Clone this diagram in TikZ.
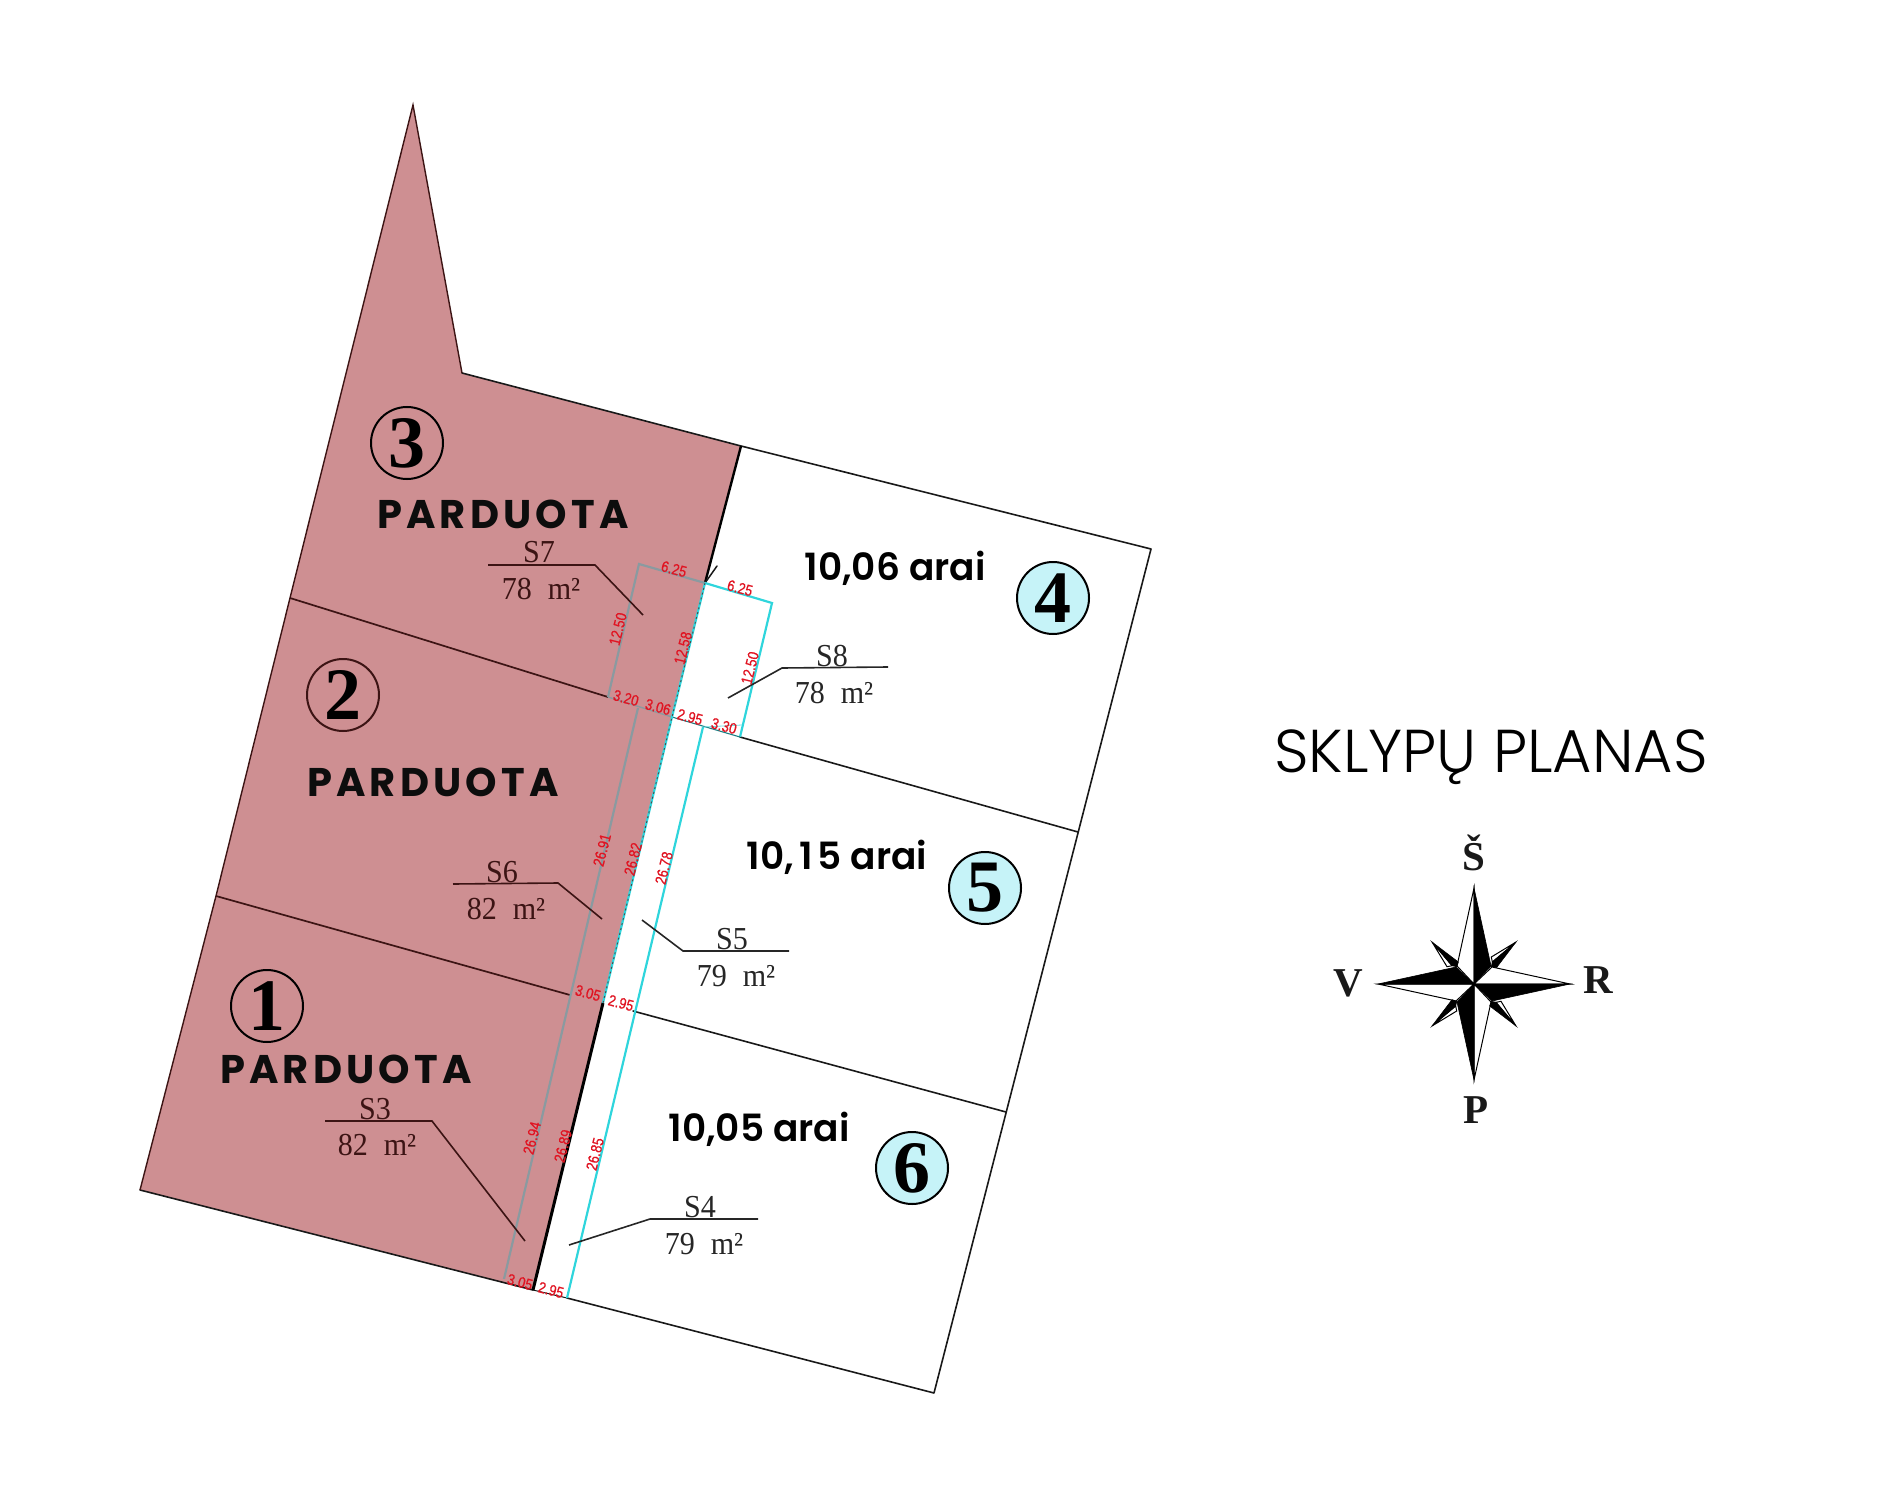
\documentclass[tikz,border=0pt]{standalone}
\usepackage{fontspec}
\setmainfont{Liberation Serif}
\newfontfamily\planf[FakeStretch=0.94]{Liberation Serif}
\newfontfamily\redf[FakeStretch=0.85,FakeBold=0.6]{Liberation Sans}
\newfontfamily\soldf[LetterSpace=10.5]{Poppins Bold}
\newfontfamily\areaf{Poppins SemiBold}
\newfontfamily\titlef{Poppins Light}
\newcommand\wideone{\makebox[.63em]{1}}
\definecolor{soldpink}{HTML}{CE8F92}
\definecolor{freecyan}{HTML}{C6F3F8}
\definecolor{linecyan}{HTML}{2FD5DC}
\definecolor{linegray}{HTML}{8A9AA0}
\definecolor{maroon}{HTML}{3C1414}
\definecolor{dimred}{HTML}{E01422}
\tikzset{
 edge/.style={draw=black!90,line width=1.6pt,line cap=round,line join=round},
 heavy/.style={draw=black,line width=3pt},
 inner/.style={draw=maroon,line width=1.7pt},
 cyanl/.style={draw=linecyan,line width=2.2pt},
 grayl/.style={draw=linegray,line width=2.2pt},
 dots/.style={draw=black!70,line width=.9pt,dash pattern=on 2pt off 3pt},
 leader/.style={draw=#1,line width=1.6pt,line join=miter},
 badge/.style={circle,draw=black,line width=2pt,minimum size=72pt,inner sep=0pt,font=\bfseries\fontsize{74}{74}\selectfont},
 sold/.style={font=\soldf\fontsize{40}{40}\selectfont,inner sep=0pt,text=black!95},
 area/.style={font=\areaf\fontsize{37.5}{37.5}\selectfont,inner sep=0pt,text=black},
 parcel/.style={font=\planf\fontsize{32}{32}\selectfont,inner sep=0pt},
 dim/.style={font=\redf\fontsize{15.5}{15.5}\selectfont,text=dimred,inner sep=0pt},
 compass/.style={font=\bfseries\fontsize{41}{41}\selectfont,inner sep=0pt,text=black!90},
 rosew/.style={fill=white,draw=black,line width=1pt,line join=miter},
 roseb/.style={fill=black,draw=black,line width=.6pt,line join=miter},
}
\begin{document}
\begin{tikzpicture}[x=1pt,y=-1pt]
\useasboundingbox (0,0) rectangle (1900,1495);
% parcel corners
\coordinate (spike) at (413,105);
\coordinate (notch) at (462,373);
\coordinate (top) at (741,446);
\coordinate (ne) at (1151,549);
\coordinate (se) at (934,1393);
\coordinate (r45) at (1078,832);
\coordinate (r56) at (1006,1112);
\coordinate (sw) at (140,1190);
\coordinate (l23) at (290,598);
\coordinate (l12) at (216,896);
\coordinate (c0) at (705,583);
\coordinate (c1) at (672,717);
\coordinate (c2) at (603,1003);
\coordinate (c3) at (533,1290);
\coordinate (g23) at (608,697);
\coordinate (g12) at (570,995);
\coordinate (e45) at (740,737);
\coordinate (e56) at (633,1011);
\coordinate (e6) at (567,1298);
\coordinate (s7a) at (639,564);
\coordinate (s8a) at (772,603);
\coordinate (s8b) at (742,725);
\coordinate (g2) at (638,708);
\coordinate (g1) at (504,1279);
\coordinate (k2) at (703,727);
% sold area
\fill[soldpink] (spike)--(notch)--(top)--(c0)--(c1)--(c2)--(c3)--(sw)--(l12)--(l23)--cycle;
% outlines
\draw[edge] (notch)--(top)--(ne)--(se)--(e6);
\draw[edge] (c3)--(sw);
\draw[inner,line width=1.4pt] (sw)--(l12)--(l23)--(spike)--(notch);
\draw[inner] (l23)--(g23);
\draw[inner] (l12)--(g12);
\draw[edge] (e45)--(r45);
\draw[edge] (e56)--(r56);
\draw[edge,line width=1pt] (c3)--(e6);
\draw[heavy,line width=2.4pt] (top)--(c0);
\draw[heavy] (c2)--(c3);
\draw[edge,line width=1.5pt] (c0)--(717,566);
% servitude rectangles
\draw[grayl,line join=miter] (g23)--(s7a)--(c0);
\draw[grayl] (g2)--(g1);
\draw[grayl,line width=1.4pt] (g23)--(c1);
\draw[cyanl,line join=miter] (c0)--(s8a)--(e45);
\draw[draw=linecyan!60!black,line width=1.1pt] (c1)--(e45);
\draw[draw=linecyan!70,line width=.8pt] (k2)--(s8b);
\draw[cyanl] (c0)--(c1)--(c2);
\draw[dots] (c0)--(c1)--(c2);
\draw[cyanl] (k2)--(e6);
% numbered badges
\node[badge,fill=soldpink] (b1) at (267,1006) {1};
\node[badge,fill=soldpink,draw=maroon] (b2) at (343,695) {2};
\node[badge,fill=soldpink] (b3) at (407,443) {3};
\node[badge,fill=freecyan] (b4) at (1053,598) {4};
\node[badge,fill=freecyan] (b5) at (985,888) {5};
\node[badge,fill=freecyan] (b6) at (912,1168) {6};
% labels
\node[sold] (p3) at (503,514) {PARDUOTA};
\node[sold] (p2) at (433,782) {PARDUOTA};
\node[sold] (p1) at (346,1069) {PARDUOTA};
\node[area] (a4) at (895,568) {10,06 arai};
\node[area] (a5) at (837,857) {10,\wideone5 arai};
\node[area] (a6) at (759,1129) {10,05 arai};
% parcel leaders
\draw[leader=maroon] (488,565)--(595,565)--(643,615);
\draw[leader=black!85] (728,698)--(782,668)--(888,667);
\draw[leader=maroon] (453,884)--(558,883)--(602,919);
\draw[leader=black!85] (642,920)--(683,951)--(789,951);
\draw[leader=maroon] (325,1121)--(432,1121)--(525,1241);
\draw[leader=black!85] (569,1245)--(650,1219)--(758,1219);
\node[parcel,text=maroon] (t7) at (539,552) {S7};
\node[parcel,text=maroon] (v7) at (541,589) {78\hspace{16pt}m²};
\node[parcel,text=black!85] (t8) at (832,656) {S8};
\node[parcel,text=black!85] (v8) at (834,693) {78\hspace{16pt}m²};
\node[parcel,text=maroon] (t6) at (502,872) {S6};
\node[parcel,text=maroon] (v6) at (506,909) {82\hspace{16pt}m²};
\node[parcel,text=black!85] (t5) at (732,939) {S5};
\node[parcel,text=black!85] (v5) at (736,976) {79\hspace{16pt}m²};
\node[parcel,text=maroon] (t3) at (375,1109) {S3};
\node[parcel,text=maroon] (v3) at (377,1145) {82\hspace{16pt}m²};
\node[parcel,text=black!85] (t4) at (700,1207) {S4};
\node[parcel,text=black!85] (v4) at (704,1244) {79\hspace{16pt}m²};
% dimensions
\node[dim,rotate=-15] (d1) at (674,569) {6.25};
\node[dim,rotate=-15] (d2) at (740,588) {6.25};
\node[dim,rotate=76] (d3) at (618,629) {12.50};
\node[dim,rotate=76] (d4) at (683,648) {12.58};
\node[dim,rotate=76] (d5) at (750,668) {12.50};
\node[dim,rotate=-15] (d6) at (626,698) {3.20};
\node[dim,rotate=-15] (d7) at (658,707) {3.06};
\node[dim,rotate=-15] (d8) at (690,717) {2.95};
\node[dim,rotate=-15] (d9) at (724,726) {3.30};
\node[dim,rotate=76] (d10) at (602,850) {26.91};
\node[dim,rotate=76] (d11) at (633,859) {26.82};
\node[dim,rotate=76] (d12) at (664,868) {26.78};
\node[dim,rotate=-15] (d13) at (588,993) {3.05};
\node[dim,rotate=-15] (d14) at (621,1003) {2.95};
\node[dim,rotate=76] (d15) at (532,1138) {26.94};
\node[dim,rotate=76] (d16) at (563,1146) {26.89};
\node[dim,rotate=76] (d17) at (595,1154) {26.85};
\node[dim,rotate=-15] (d18) at (520,1282) {3.05};
\node[dim,rotate=-15] (d19) at (551,1290) {2.95};
% title
\node[font=\titlef\fontsize{60.5}{60.5}\selectfont,inner sep=0pt,anchor=base,text=black] (title) at (1491,772) {SKLYPŲ PLANAS};
% compass rose
\begin{scope}[shift={(1474,984)}]
\foreach \a in {0,90,180,270}{
 \begin{scope}[rotate=\a]
  \path[rosew] (42,-42)--(17.3,-27)--(18.3,-22)--cycle;
  \path[roseb] (42,-42)--(18.3,-22)--(17.3,-17.3)--(22,-15.7)--cycle;
  \path[rosew] (0,-96)--(-17,-18)--(0,0)--cycle;
  \path[roseb] (0,-96)--(17,-18)--(0,0)--cycle;
 \end{scope}
}
\end{scope}
\node[compass] (cn) at (1474,853) {Š};
\node[compass] (cw) at (1348,983) {V};
\node[compass] (ce) at (1598,980) {R};
\node[compass] (cs) at (1476,1110) {P};
\end{tikzpicture}
\end{document}
